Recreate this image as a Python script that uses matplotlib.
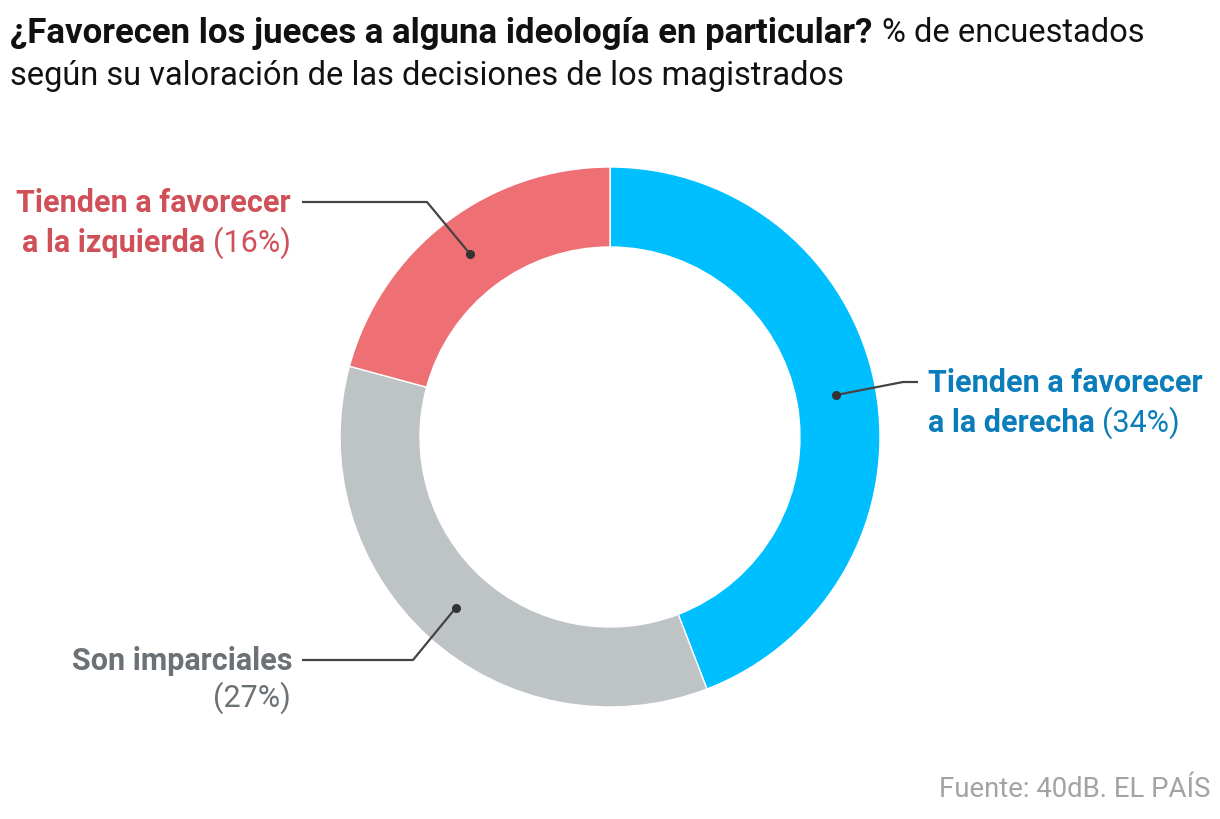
"""Donut chart: do judges favour an ideology? (40dB / EL PAIS)."""
import numpy as np
import matplotlib
matplotlib.use("Agg")
import matplotlib.pyplot as plt

plt.rcParams["font.family"] = ["Roboto", "DejaVu Sans"]

# data
labels_bold = ["Tienden a favorecer\na la derecha", "Son imparciales",
               "Tienden a favorecer\na la izquierda"]
values = [34, 27, 16]
wedge_colors = ["#00BFFF", "#BEC3C6", "#EE7074"]
text_colors = ["#0A7DBA", "#6B7175", "#CF5058"]

W, H = 1220, 820
CX, CY = 610, H - 438
R_OUT, RING = 270, 80
LINE = "#444444"


def add_mixed(ax, renderer, x, y, bold, regular, color, ha, size):
    """Draw bold+regular text on one line, anchored left or right at x."""
    if ha == "left":
        t = ax.text(x, y, bold + " ", ha="left", va="center", fontsize=size,
                    fontweight="bold", color=color)
        bb = t.get_window_extent(renderer)
        ax.text(bb.x1, y, regular, ha="left", va="center", fontsize=size,
                color=color)
    else:
        t = ax.text(x, y, regular, ha="right", va="center", fontsize=size,
                    color=color)
        bb = t.get_window_extent(renderer)
        ax.text(bb.x0, y, bold + " ", ha="right", va="center", fontsize=size,
                fontweight="bold", color=color)


def main():
    fig = plt.figure(figsize=(W / 100, H / 100), dpi=100)
    ax = fig.add_axes([0, 0, 1, 1])
    ax.pie(values, colors=wedge_colors, startangle=90, counterclock=False,
           radius=R_OUT, center=(CX, CY),
           wedgeprops=dict(width=RING, edgecolor="white", linewidth=1))
    ax.set_xlim(0, W)
    ax.set_ylim(0, H)
    ax.set_aspect("equal")
    ax.axis("off")
    renderer = fig.canvas.get_renderer()

    # dot positions at the middle of each wedge, mid-ring
    total = sum(values)
    cum = np.cumsum([0] + values[:-1])
    mids = [np.radians(90 - 360 * (c + v / 2) / total) for c, v in zip(cum, values)]
    r_mid = R_OUT - RING / 2
    dots = [(CX + r_mid * np.cos(a), CY + r_mid * np.sin(a)) for a in mids]

    # leader lines: (elbow, end)
    elbows = [((903, H - 383), (918, H - 383)),
              ((413, H - 661), (302, H - 661)),
              ((427, H - 203), (302, H - 203))]
    for (dx, dy), (el, end) in zip(dots, elbows):
        ax.plot([dx, el[0], end[0]], [dy, el[1], end[1]], color=LINE, lw=1.6,
                solid_capstyle="butt")
        ax.plot(dx, dy, "o", color="#333333", ms=5.5)

    fs = 22
    # derecha
    ax.text(928, H - 383, "Tienden a favorecer", ha="left", va="center",
            fontsize=fs, fontweight="bold", color=text_colors[0])
    add_mixed(ax, renderer, 928, H - 423, "a la derecha", f"({values[0]}%)",
              text_colors[0], "left", fs)
    # imparciales
    ax.text(292, H - 661, "Son imparciales", ha="right", va="center",
            fontsize=fs, fontweight="bold", color=text_colors[1])
    ax.text(291, H - 698, f"({values[1]}%)", ha="right", va="center",
            fontsize=fs, color=text_colors[1])
    # izquierda
    ax.text(291, H - 203, "Tienden a favorecer", ha="right", va="center",
            fontsize=fs, fontweight="bold", color=text_colors[2])
    add_mixed(ax, renderer, 291, H - 243, "a la izquierda", f"({values[2]}%)",
              text_colors[2], "right", fs)

    # title
    t = ax.text(10, H - 33, "¿Favorecen los jueces a alguna ideología en particular?",
                ha="left", va="center", fontsize=25, fontweight="bold",
                color="#111111")
    bb = t.get_window_extent(renderer)
    ax.text(bb.x1 + 10, H - 33, "% de encuestados", ha="left", va="center",
            fontsize=23.5, color="#111111")
    ax.text(10, H - 76, "según su valoración de las decisiones de los magistrados",
            ha="left", va="center", fontsize=23.5, color="#111111")

    ax.text(1210, H - 790, "Fuente: 40dB. EL PAÍS", ha="right", va="center",
            fontsize=19.8, color="#A3A3A3")

    fig.savefig("out.png", dpi=100)
    plt.close(fig)


if __name__ == "__main__":
    main()
